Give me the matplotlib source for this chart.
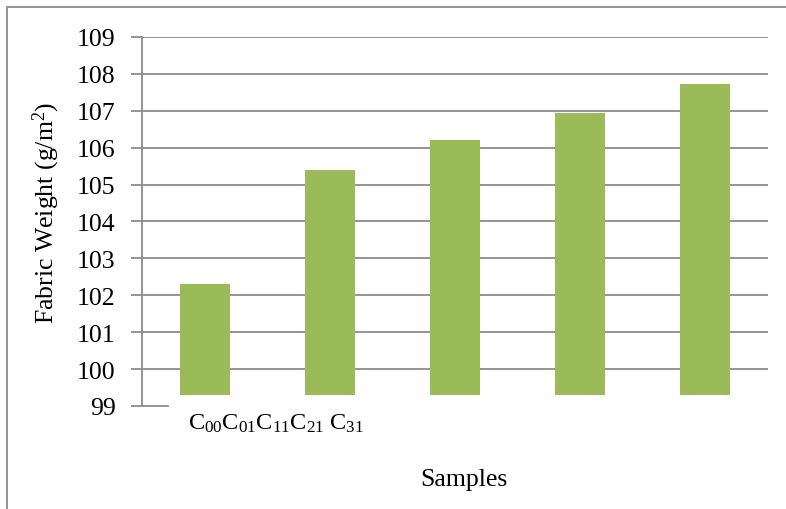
import numpy as np
import matplotlib
matplotlib.use("Agg")
import matplotlib.pyplot as plt
from matplotlib.patches import Rectangle

plt.rcParams['font.family'] = ['Liberation Serif', 'DejaVu Serif']
plt.rcParams['mathtext.fontset'] = 'custom'
plt.rcParams['mathtext.rm'] = 'Liberation Serif'
plt.rcParams['mathtext.it'] = 'Liberation Serif'

samples = ['C00', 'C01', 'C11', 'C21', 'C31']
weights = [102.3, 105.4, 106.2, 106.95, 107.73]
base = 99.3
yticks = list(range(99, 110))

barColor = '#9BBB59'
gridColor = '#8C8C8C'
fs = 18.5

fig = plt.figure(figsize=(7.86, 5.10), dpi=100)
fig.patches.append(Rectangle((7/786, -0.05), 1.0, 1 - 8/510 + 0.05,
                             transform=fig.transFigure, fill=False,
                             edgecolor='#8C8C8C', linewidth=1.3))

ax = fig.add_axes([142/786, 1 - 407/510, 626/786, 369/510])
x = np.arange(len(samples))
heights = [w - base for w in weights]
ax.bar(x, heights, bottom=base, width=0.4, color=barColor, zorder=3)

ax.set_xlim(-0.5, 4.5)
ax.set_ylim(99, 109)
ax.set_yticks(yticks)
ax.tick_params(axis='y', direction='out', length=8, width=1.3, color=gridColor,
               labelsize=fs, pad=11)
ax.set_xticks([])
for v in yticks[1:]:
    ax.axhline(v, color=gridColor, linewidth=1.3, zorder=1)

for s in ['top', 'right', 'bottom']:
    ax.spines[s].set_visible(False)
ax.spines['left'].set_color(gridColor)
ax.spines['left'].set_linewidth(1.3)
# short stub of the category axis at the bottom
ax.plot([-0.5, -0.29], [99, 99], color=gridColor, linewidth=1.3,
        clip_on=False, zorder=2)

catLabel = ''.join('C$_{%s}$' % s[1:] for s in samples[:4]) + ' C$_{%s}$' % samples[4][1:]
fig.text(188/786, 1 - 424/510, catLabel, fontsize=17.5, ha='left', va='center')

fig.text(46/786, 1 - 213/510, 'Fabric Weight (g/m$^2$)', fontsize=fs,
         rotation=90, ha='center', va='center')
fig.text(464/786, 1 - 480/510, 'Samples', fontsize=fs, ha='center', va='center')

fig.savefig('out.png', dpi=100)
